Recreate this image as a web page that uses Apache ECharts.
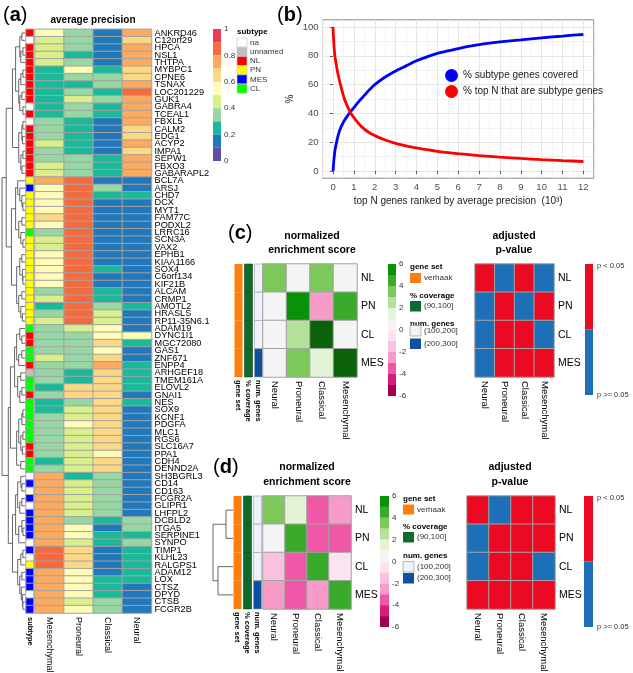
<!DOCTYPE html>
<html><head><meta charset="utf-8">
<script src="https://cdn.jsdelivr.net/npm/echarts@6/dist/echarts.min.js"></script>
<style>html,body{margin:0;padding:0;background:#fff}#c{width:633px;height:673px}</style>
</head><body><div id="c"></div>
<script>
// ---------------- DATA ----------------
const genes = ['ANKRD46','C12orf29','HPCA','NSL1','THTPA','MYBPC1','CPNE6','TSNAX','LOC201229','GUK1',
 'GABRA4','TCEAL1','FBXL5','CALM2','EDG1','ACYP2','IMPA1','SEPW1','FBXO3','GABARAPL2',
 'BCL7A','ARSJ','CHD7','DCX','MYT1','FAM77C','PODXL2','LRRC16','SCN3A','VAX2',
 'EPHB1','KIAA1166','SOX4','C6orf134','KIF21B','ALCAM','CRMP1','AMOTL2','HRASLS','RP11-35N6.1',
 'ADAM19','DYNC1I1','MGC72080','GAS1','ZNF671','ENPP4','ARHGEF18','TMEM161A','ELOVL2','GNAI1',
 'NES','SOX9','KCNF1','PDGFA','MLC1','RGS6','SLC16A7','PPA1','CDH4','DENND2A',
 'SH3BGRL3','CD14','CD163','FCGR2A','GLIPR1','LHFPL2','DCBLD2','ITGA5','SERPINE1','SYNPO',
 'TIMP1','KLHL23','RALGPS1','ADAM12','LOX','CTSZ','DPYD','CTSB','FCGR2B'];
const subtypes = ['NL','na','NL','NL','NL','NL','NL','NL','NL','NL',
 'na','NL','na','NL','NL','NL','NL','NL','NL','NL',
 'PN','MES','PN','PN','PN','PN','PN','CL','PN','PN',
 'PN','PN','PN','PN','PN','PN','PN','PN','PN','PN',
 'CL','NL','NL','CL','CL','NL','unnamed','CL','CL','NL',
 'CL','CL','CL','CL','CL','CL','NL','NL','CL','CL',
 'na','MES','na','MES','na','MES','MES','MES','MES','na',
 'MES','na','PN','MES','MES','MES','na','MES','MES'];
const apCols = ['Mesenchymal','Proneural','Classical','Neural'];
const apMesenchymal = [.55,.45,.45,.45,.45,.25,.25,.25,.25,.25, .25,.25,.35,.35,.35,.45,.35,.35,.45,.45,
 .75,.55,.55,.55,.55,.65,.55,.35,.45,.45, .55,.55,.55,.55,.55,.35,.45,.25,.35,.45,
 .35,.35,.35,.35,.45,.35,.35,.35,.25,.35, .25,.25,.35,.35,.35,.35,.35,.35,.25,.35,
 .75,.75,.75,.75,.75,.75,.75,.75,.75,.75, .85,.85,.85,.75,.75,.75,.75,.75,.75];
const apProneural = [.35,.35,.35,.25,.35,.55,.35,.25,.35,.45, .35,.35,.25,.25,.25,.25,.25,.35,.35,.35,
 .85,.85,.85,.85,.85,.85,.85,.85,.85,.85, .85,.85,.85,.85,.85,.85,.85,.85,.85,.85,
 .45,.35,.35,.35,.35,.35,.25,.25,.65,.65, .35,.45,.45,.55,.45,.45,.45,.45,.45,.45,
 .25,.45,.45,.45,.45,.45,.35,.55,.55,.45, .65,.65,.65,.55,.55,.55,.55,.45,.55];
const apClassical = [.15,.15,.15,.15,.15,.25,.35,.35,.25,.35, .25,.25,.15,.15,.15,.15,.15,.25,.25,.25,
 .15,.35,.25,.15,.15,.15,.15,.15,.15,.15, .15,.15,.25,.15,.15,.25,.25,.35,.45,.45,
 .55,.55,.65,.55,.65,.75,.65,.65,.65,.65, .65,.65,.65,.65,.65,.65,.65,.55,.65,.65,
 .35,.35,.35,.35,.35,.35,.25,.15,.25,.25, .15,.15,.15,.15,.25,.25,.25,.35,.35];
const apNeural = [.75,.65,.75,.75,.75,.65,.65,.75,.85,.75, .75,.75,.75,.65,.65,.75,.65,.75,.75,.75,
 .15,.15,.25,.15,.15,.15,.15,.15,.15,.15, .15,.15,.15,.15,.15,.15,.15,.25,.15,.15,
 .15,.55,.25,.15,.15,.25,.25,.25,.25,.15, .25,.15,.15,.15,.15,.15,.15,.15,.15,.15,
 .15,.15,.15,.15,.15,.15,.35,.35,.25,.35, .25,.25,.25,.25,.25,.15,.15,.15,.15];
const apTickLabels = ['1','0.8','0.6','0.4','0.2','0'];
const subtypeLevels = ['na','unnamed','NL','PN','MES','CL'];
// dendrogram (a): [height, left, right], leaves = row index
const treeA = [22,
 [18,
  [12, [9, [5,[3,0,1],[4,[2,2,3],4]], [6,[4,[2,5,6],7],[5,[3,8,9],[2,10,11]]]],
       [6,[3,[2,12,13],[2.5,14,15]],[4,[2,16,17],[3,18,19]]]],
  [13, [9, [7,20,[5,21,[3,22,[2,23,24]]]], [6,[3,25,26],[4,27,[2,28,29]]]],
       [8, [5,[3,30,31],[2.5,32,[2,33,34]]], [6,[3,35,36],[4,37,[2.5,38,39]]]]]],
 [16,
  [14, [10, [8,[5,40,[3,41,42]],[6,[3,43,44],45]], [7,[4,46,47],[5,[3,48,49],50]]],
       [8, [6,[3,[2,51,52],53],[4,[2,54,55],[2.5,56,57]]], [4,58,59]]],
  [12, [9, [7,[4,60,[3,61,62]],[5,[3,63,64],65]], [6,[3,66,[2,67,68]],69]],
       [7, [4,[2,70,71],72], [5,[3,73,74],[3.5,75,[2.5,76,[2,77,78]]]]]]]];

// panel (b)
const coveredN = [0,0.05,0.1,0.2,0.3,0.5,0.75,1,1.25,1.5,1.75,2,2.5,3,3.5,4,4.5,5,5.5,6,6.5,7,7.5,8,8.5,9,9.5,10,10.5,11,11.5,12];
const coveredPct = [0,9,15,22,27.5,34,39.5,44,48.5,52.5,56.5,60,65.3,69.5,73,76.5,79.3,81.7,83.5,85,86.5,87.8,88.8,89.6,90.3,91,91.8,92.5,93.1,93.7,94.3,94.8];
const topN = [0,0.01,0.03,0.08,0.16,0.25,0.4,0.56,0.8,1,1.35,1.8,2.5,3,3.5,4,5,6,7,8,9,10,11,12];
const topNPct = [100,96,91,81,73.5,66.5,57.5,49.5,41.5,37,31,26,21.5,19.2,17.5,16,13.6,12,10.7,9.6,8.7,7.9,7.2,6.6];
const bXTicks = [0,1,2,3,4,5,6,7,8,9,10,11,12];
const bXMinor = [-0.5,0.5,1.5,2.5,3.5,4.5,5.5,6.5,7.5,8.5,9.5,10.5,11.5,12.5];
const bYTicks = [0,20,40,60,80,100];
const bYMinor = [10,30,50,70,90];
const bSeriesNames = ['% subtype genes covered','% top N that are subtype genes'];

// panels (c),(d)
const setRows = ['NL','PN','CL','MES'];
const setCols = ['Neural','Proneural','Classical','Mesenchymal'];
const annotCols = ['gene set','% coverage','num. genes'];
const geneSetC = ['verhaak','verhaak','verhaak','verhaak'];
const coverageC = ['(90,100]','(90,100]','(90,100]','(90,100]'];
const numGenesC = ['(100,200]','(100,200]','(100,200]','(200,300]'];
const geneSetD = ['verhaak','verhaak','verhaak','verhaak'];
const coverageD = ['(90,100]','(90,100]','(90,100]','(90,100]'];
const numGenesD = ['(100,200]','(100,200]','(100,200]','(200,300]'];
const nesC = [[3.5,0.5,3.5,0.5],[0.5,5.5,-2.5,4.5],[0.5,2.5,6.5,0.5],[0.5,3.5,1.5,6.5]];
const nesD = [[3.5,1.5,-3.5,-2.5],[0.5,4.5,-3.5,-3.5],[-1.5,-3.5,4.5,-0.5],[-2.5,-3.5,-2.5,4.5]];
const sigC = [[1,0,1,0],[0,1,0,1],[0,1,1,0],[0,1,1,1]]; // 1 = p < 0.05
const sigD = [[1,0,1,1],[0,1,1,1],[0,1,1,0],[1,1,1,1]];
const nesTickLabels = ['6','4','2','0','-2','-4','-6'];
const treeD = [20,[7,0,1],[15,2,3]];

// ---------------- STYLE ----------------
const FF = '"Liberation Sans", Arial, Helvetica, sans-serif';
const FFN = 'Liberation Sans';
const apPalette = ['#5E4FA2','#2178BA','#19B99A','#96D7A4','#D9EF8B','#FFFCB8','#FDD884','#FBAA5F','#F46B40','#EE3A52']; // low->high
const subtypeColors = {na:'#FFFFFF',unnamed:'#BEBEBE',NL:'#FF0000',PN:'#FFFF00',MES:'#0000FF',CL:'#00FF00'};
const nesPalette = ['#A3004F','#D81B7F','#EE58A6','#F79BC9','#FBC2E0','#FCE3F0','#F4F4F4','#E2F3D6','#B5E29B','#7DC85B','#3AAA2A','#089208']; // -6..6
const nesHigh = '#0B620B';
const annotColors = {'verhaak':'#FF7F0E','(90,100]':'#0F6B2B','(100,200]':'#EEF2FB','(200,300]':'#0D4FA0'};
const sigRed = '#EC0A22', sigBlue = '#1D70B7';
const cellBorder = '#a3a3a3';

function apColor(v){ return apPalette[Math.max(0,Math.min(9,Math.floor(v*10)))]; }
function nesColor(v){ if(v>6) return nesHigh; return nesPalette[Math.max(0,Math.min(11,Math.floor(v+6)))]; }

// ---------------- BUILD ----------------
const apSeriesArr = [apMesenchymal, apProneural, apClassical, apNeural];
const apData = [];
apSeriesArr.forEach((arr,ci)=>arr.forEach((v,ri)=>apData.push({value:[ci,ri,v],itemStyle:{color:apColor(v)}})));
const subData = subtypes.map((s,ri)=>({value:[0,ri,subtypeLevels.indexOf(s)],itemStyle:{color:subtypeColors[s]}}));

function dendroSegs(tree){
  const segs=[];
  (function walk(n){
    if(typeof n==='number') return {y:n,h:0};
    const A=walk(n[1]), B=walk(n[2]);
    segs.push([A.h,A.y,n[0],A.y],[B.h,B.y,n[0],B.y],[n[0],A.y,n[0],B.y]);
    return {y:(A.y+B.y)/2,h:n[0]};
  })(tree);
  return segs;
}
function dendroRender(params, api){
  const a=api.coord([api.value(0),api.value(1)]), b=api.coord([api.value(2),api.value(3)]);
  return {type:'line',shape:{x1:a[0],y1:a[1],x2:b[0],y2:b[1]},style:{stroke:'#555',lineWidth:0.9}};
}
function annotItems(gs,cov,ng){
  const items=[];
  [gs,cov,ng].forEach((arr,ci)=>arr.forEach((v,ri)=>items.push({value:[ci,ri],lab:v})));
  return items;
}
function annotRender(items){
  const strokes=[null,'#0b4a1e','#9a9a9a'];
  return function(params, api){
    const it=items[params.dataIndex];
    const c=api.coord([api.value(0),api.value(1)]); const s=api.size([1,1]);
    const ci=it.value[0];
    return {type:'rect',shape:{x:c[0]-4,y:c[1]-s[1]/2,width:8,height:s[1]},
      style:{fill:annotColors[it.lab],stroke:strokes[ci],lineWidth:strokes[ci]?0.6:0}};
  };
}
function gridData(mat, colorFn){
  const d=[];
  mat.forEach((row,ri)=>row.forEach((v,ci)=>d.push({value:[ci,ri,v],itemStyle:{color:colorFn(v)}})));
  return d;
}
const annC = annotItems(geneSetC,coverageC,numGenesC);
const annD = annotItems(geneSetD,coverageD,numGenesD);

const hid = {show:false};
function catX(grid, data, lab){
  return {gridIndex:grid,type:'category',data,axisLine:hid,axisTick:hid,splitLine:hid,
    axisLabel:Object.assign({interval:0,rotate:-90,margin:4,color:'#000',fontFamily:FFN,fontSize:9.5},lab||{})};
}
function catY(grid, data, showLab, lab){
  return {gridIndex:grid,type:'category',data,inverse:true,position:'right',axisLine:hid,axisTick:hid,splitLine:hid,
    axisLabel:Object.assign({show:showLab,interval:0,margin:4,color:'#000',fontFamily:FFN,fontSize:10.5},lab||{})};
}
const G = (l,t,w,h)=>({left:l,top:t,width:w,height:h,outerBoundsMode:'none',containLabel:false});

const xAxis = [
  {gridIndex:0,type:'value',inverse:true,min:0,max:23,show:false},
  catX(1,['subtype'],{fontWeight:'bold',fontSize:7.5,margin:4}),
  catX(2,apCols,{fontSize:9}),
  {gridIndex:3,type:'value',min:-0.5,max:12.5,splitNumber:13,
    axisLine:hid,axisTick:{show:true,length:3,lineStyle:{color:'#333',width:0.8},customValues:bXTicks},
    axisLabel:{color:'#4d4d4d',fontSize:9.5,fontFamily:FFN,margin:4,customValues:bXTicks},
    splitLine:{show:true,lineStyle:{color:'#E6E6E6',width:1}},
    name:'top N genes ranked by average precision  (10³)',nameLocation:'middle',nameGap:18,
    nameTextStyle:{fontSize:10,color:'#1a1a1a',fontFamily:FFN}},
  {gridIndex:3,type:'value',min:-0.5,max:12.5,axisLine:hid,axisLabel:{show:false,customValues:bXMinor},
    axisTick:{show:false,customValues:bXMinor},splitLine:{show:true,lineStyle:{color:'#F0F0F0',width:0.8}}},
  catX(4,annotCols,{fontWeight:'bold',fontSize:7.5,margin:3}),
  catX(5,setCols),
  catX(6,setCols),
  {gridIndex:7,type:'value',inverse:true,min:0,max:21,show:false},
  catX(8,annotCols,{fontWeight:'bold',fontSize:7.5,margin:3}),
  catX(9,setCols),
  catX(10,setCols)
];
const yAxis = [
  {gridIndex:0,type:'value',inverse:true,min:-0.5,max:78.5,show:false},
  catY(1,genes,false),
  catY(2,genes,true,{fontSize:9.2,margin:3}),
  {gridIndex:3,type:'value',min:-5,max:105,splitNumber:5,
    axisLine:hid,axisTick:{show:true,length:3,lineStyle:{color:'#333',width:0.8},customValues:bYTicks},
    axisLabel:{color:'#4d4d4d',fontSize:9.5,fontFamily:FFN,margin:4,customValues:bYTicks},
    splitLine:{show:true,lineStyle:{color:'#E6E6E6',width:1}},
    name:'%',nameLocation:'middle',nameRotate:90,nameGap:27,nameTextStyle:{fontSize:10,color:'#1a1a1a',fontFamily:FFN}},
  {gridIndex:3,type:'value',min:-5,max:105,axisLine:hid,axisLabel:{show:false,customValues:bYMinor},
    axisTick:{show:false,customValues:bYMinor},splitLine:{show:true,lineStyle:{color:'#F0F0F0',width:0.8}}},
  catY(4,setRows,false),
  catY(5,setRows,true),
  catY(6,setRows,true),
  {gridIndex:7,type:'value',inverse:true,min:-0.5,max:3.5,show:false},
  catY(8,setRows,false),
  catY(9,setRows,true),
  catY(10,setRows,true)
];

const grid = [
  G(1,29.3,24,583.7),      // a dendro
  G(26,29.3,7.5,583.7),    // a subtype
  G(35,29.3,116.5,583.7),  // a heatmap
  Object.assign(G(322.6,19.8,271.2,158.4),{show:true,borderColor:'#8a8a8a',borderWidth:1,backgroundColor:'#fff'}), // b
  G(233.5,264,30,113),     // c annot
  G(263,264,94,113),       // c nes
  G(475,264,79,113),       // c p
  G(212,496,21,113),       // d dendro
  G(232.5,496,30,113),     // d annot
  G(263,496,88,113),       // d nes
  G(467,496,88,113)        // d p
];

const hm = (xi,data)=>({type:'heatmap',xAxisIndex:xi,yAxisIndex:xi,data,progressive:0,animation:false,
  itemStyle:{borderColor:cellBorder,borderWidth:1},emphasis:{disabled:true}});

const series = [
  {type:'custom',xAxisIndex:0,yAxisIndex:0,data:dendroSegs(treeA),encode:{x:[0,2],y:[1,3]},renderItem:dendroRender,silent:true},
  hm(1,subData),
  hm(2,apData),
  {type:'line',name:bSeriesNames[0],xAxisIndex:3,yAxisIndex:3,data:coveredN.map((n,i)=>[n,coveredPct[i]]),
    showSymbol:false,smooth:0.3,lineStyle:{color:'#0000FF',width:2.8},itemStyle:{color:'#0000FF'},animation:false},
  {type:'line',name:bSeriesNames[1],xAxisIndex:3,yAxisIndex:3,data:topN.map((n,i)=>[n,topNPct[i]]),
    showSymbol:false,smooth:0.3,lineStyle:{color:'#FF0000',width:2.8},itemStyle:{color:'#FF0000'},animation:false},
  {type:'custom',xAxisIndex:5,yAxisIndex:5,data:annC.map(d=>d.value),encode:{x:0,y:1},renderItem:annotRender(annC),silent:true},
  hm(6,gridData(nesC,nesColor)),
  hm(7,gridData(sigC,v=>v?sigRed:sigBlue)),
  {type:'custom',xAxisIndex:8,yAxisIndex:8,data:dendroSegs(treeD),encode:{x:[0,2],y:[1,3]},renderItem:dendroRender,silent:true},
  {type:'custom',xAxisIndex:9,yAxisIndex:9,data:annD.map(d=>d.value),encode:{x:0,y:1},renderItem:annotRender(annD),silent:true},
  hm(10,gridData(nesD,nesColor)),
  hm(11,gridData(sigD,v=>v?sigRed:sigBlue))
];

// ---------------- GRAPHIC (titles / legends) ----------------
function T(x,y,text,size,o){
  o=o||{};
  return {type:'text',x,y,silent:true,style:{text,fill:o.fill||'#000',font:(o.bold?'bold ':'')+size+'px '+FF,
    textAlign:o.align||'left',align:o.align||'left',textVerticalAlign:'middle',verticalAlign:'middle'}};
}
function R(x,y,w,h,fill,stroke){
  return {type:'rect',silent:true,shape:{x,y,width:w,height:h},style:{fill,stroke:stroke||null,lineWidth:stroke?0.7:0}};
}
function panelLabel(x,y,letter){
  return {type:'text',x,y,silent:true,style:{text:'{p|(}{b|'+letter+'}{p|)}',textVerticalAlign:'middle',verticalAlign:'middle',
    rich:{p:{fontSize:20,fontFamily:FFN,fill:'#000'},b:{fontSize:20,fontWeight:'bold',fontFamily:FFN,fill:'#000'}}}};
}
const els = [];
els.push(panelLabel(3,15,'a'), panelLabel(277,15,'b'), panelLabel(228,233,'c'), panelLabel(213,467,'d'));
els.push(T(93,20,'average precision',10,{bold:true,align:'center'}));
// (a) colour bar
apPalette.slice().reverse().forEach((c,k)=>els.push(R(213,29+k*13.2,8,13.2,c)));
apTickLabels.forEach((t,k)=>els.push(T(224,29+k*26.4,t,8,{fill:'#333'})));
els.push(T(237,32,'subtype',8,{bold:true}));
subtypeLevels.forEach((s,k)=>{els.push(R(237,38+k*9.2,10,9.2,subtypeColors[s],'#c8c8c8'));els.push(T(250,42.6+k*9.2,s,8,{fill:'#333'}));});
// (c)/(d) titles
[[312,236,250,514],[307,467,482,510]].forEach(([cx,y1,y2,px])=>{
  els.push(T(cx,y1,'normalized',10.5,{bold:true,align:'center'}),T(cx,y2,'enrichment score',10.5,{bold:true,align:'center'}));
  els.push(T(px,y1,'adjusted',10.5,{bold:true,align:'center'}),T(px,y2,'p-value',10.5,{bold:true,align:'center'}));
});
// NES colour bars
function nesBar(x,y0,w,h){
  const bh=h/12;
  nesPalette.slice().reverse().forEach((c,k)=>els.push(R(x,y0+k*bh,w,bh,c)));
  nesTickLabels.forEach((t,k)=>els.push(T(x+w+3,y0+k*bh*2,t,8,{fill:'#333'})));
}
nesBar(388,264,8,132); nesBar(380,496,9,131);
// annotation legends
function annotLegend(x,yg,ybox,ycov,ycovbox,ynum,ynb1,ynb2){
  els.push(T(x,yg,'gene set',8,{bold:true}),R(x,ybox,11,10,annotColors['verhaak']),T(x+14,ybox+5,'verhaak',8,{fill:'#333'}));
  els.push(T(x,ycov,'% coverage',8,{bold:true}),R(x,ycovbox,11,10.5,annotColors['(90,100]']),T(x+14,ycovbox+5.2,'(90,100]',8,{fill:'#333'}));
  els.push(T(x,ynum,'num. genes',8,{bold:true}),R(x,ynb1,11,10.5,annotColors['(100,200]'],'#9a9a9a'),T(x+14,ynb1+5.2,'(100,200]',8,{fill:'#333'}));
  els.push(R(x,ynb2,11,10.5,annotColors['(200,300]']),T(x+14,ynb2+5.2,'(200,300]',8,{fill:'#333'}));
}
annotLegend(410,267,273,296,301,324,325.5,338.5);
annotLegend(403,499,504.5,527,532,556,561.5,573);
// p colour bars
function pBar(x,y0,w,h){
  els.push(R(x,y0,w,h/2,sigRed),R(x,y0+h/2,w,h/2,sigBlue));
  els.push(T(597,y0+2,'p < 0.05',7.5,{fill:'#333'}),T(597,y0+h,'p >= 0.05',7.5,{fill:'#333'}));
}
pBar(585,264,8,131); pBar(584,496,9,131);

const option = {
  animation:false,
  backgroundColor:'#fff',
  textStyle:{fontFamily:FFN},
  grid, xAxis, yAxis, series,
  legend:{left:440,top:64,orient:'vertical',itemWidth:13,itemHeight:13,itemGap:3,icon:'circle',
    data:bSeriesNames,textStyle:{fontSize:10,color:'#1a1a1a',fontFamily:FFN},selectedMode:false},
  graphic:{elements:els}
};
const chart = echarts.init(document.getElementById('c'),null,{renderer:'canvas'});
chart.setOption(option);
</script></body></html>
